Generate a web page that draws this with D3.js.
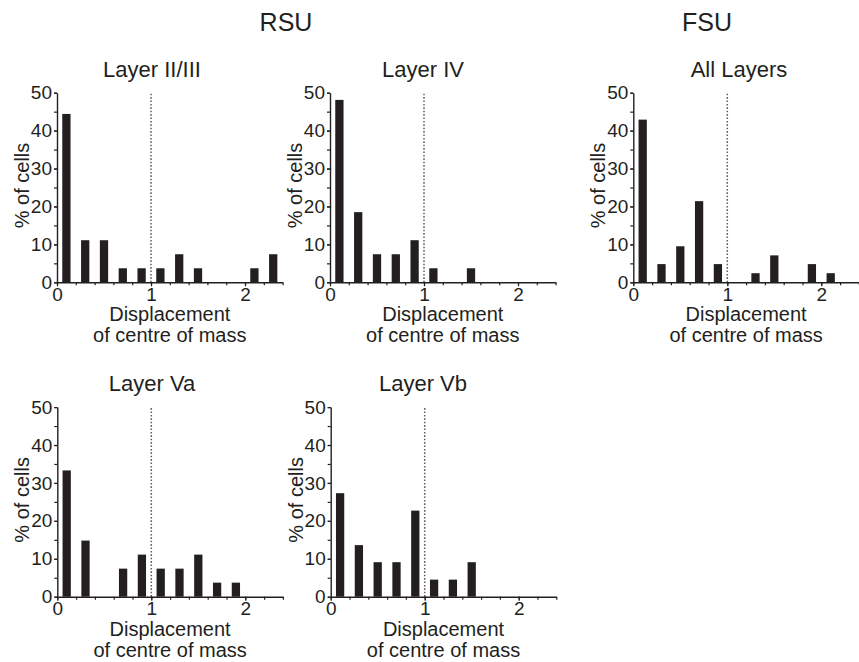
<!DOCTYPE html>
<html>
<head>
<meta charset="utf-8">
<script src="https://cdn.jsdelivr.net/npm/d3@7"></script>
<style>
  html, body { margin: 0; padding: 0; background: #fff; }
  svg { display: block; font-family: "Liberation Sans", Arial, Helvetica, sans-serif; }
</style>
</head>
<body>
<svg id="chart" width="859" height="662"></svg>
<script>
// ---- data ----
const binCentres = [0.1, 0.3, 0.5, 0.7, 0.9, 1.1, 1.3, 1.5, 1.7, 1.9, 2.1, 2.3];
const rsuLayerII_III = [44.4, 11.1, 11.1, 3.7, 3.7, 3.7, 7.4, 3.7, 0, 0, 3.7, 7.4];
const rsuLayerIV     = [48.1, 18.5, 7.4, 7.4, 11.1, 3.7, 0, 3.7, 0, 0, 0, 0];
const fsuAllLayers   = [42.9, 4.8, 9.5, 21.4, 4.8, 0, 2.4, 7.1, 0, 4.8, 2.4, 0];
const rsuLayerVa     = [33.3, 14.8, 0, 7.4, 11.1, 7.4, 7.4, 11.1, 3.7, 3.7, 0, 0];
const rsuLayerVb     = [27.3, 13.6, 9.1, 9.1, 22.7, 4.5, 4.5, 9.1, 0, 0, 0, 0];
const panelTitles = ["Layer II/III", "Layer IV", "All Layers", "Layer Va", "Layer Vb"];
const groupTitles = ["RSU", "FSU"];
const xTickLabels = [0, 1, 2];
const yTickLabels = [0, 10, 20, 30, 40, 50];
const xMinorStep = 0.2;
const yMinorStep = 5;
const xDomain = [0, 2.4];
const yDomain = [0, 50];
const referenceLine = 1;
const xLabelLines = ["Displacement", "of centre of mass"];
const yLabel = "% of cells";

// ---- layout ----
const ink = "#231f20";
const font = "'Liberation Sans', Arial, Helvetica, sans-serif";
const plotW = 225.6, plotH = 189.6;
const panels = [
  { values: rsuLayerII_III, title: panelTitles[0], x0: 57,    y0: 282.3, titleX: 152 },
  { values: rsuLayerIV,     title: panelTitles[1], x0: 330,   y0: 282.3, titleX: 423 },
  { values: fsuAllLayers,   title: panelTitles[2], x0: 633.3, y0: 282.3, titleX: 739 },
  { values: rsuLayerVa,     title: panelTitles[3], x0: 57.3,  y0: 596.7, titleX: 152 },
  { values: rsuLayerVb,     title: panelTitles[4], x0: 330.7, y0: 596.7, titleX: 423 }
];
const groupPos = [{ x: 286, y: 31 }, { x: 707, y: 31 }];

const svg = d3.select("#chart");

groupTitles.forEach((t, i) => {
  svg.append("text")
    .attr("x", groupPos[i].x).attr("y", groupPos[i].y)
    .attr("text-anchor", "middle")
    .attr("font-family", font)
    .attr("font-size", 25).attr("fill", ink)
    .text(t);
});

const barW = 0.088;

panels.forEach(p => {
  const x = d3.scaleLinear().domain(xDomain).range([0, plotW]);
  const y = d3.scaleLinear().domain(yDomain).range([0, -plotH]);
  const g = svg.append("g").attr("transform", `translate(${p.x0},${p.y0})`)
    .attr("font-family", font);

  // title
  g.append("text")
    .attr("x", p.titleX - p.x0).attr("y", -plotH - 16)
    .attr("text-anchor", "middle")
    .attr("font-size", 22).attr("fill", ink)
    .text(p.title);

  // bars
  g.selectAll("rect.bar")
    .data(binCentres.map((c, i) => ({ c, v: p.values[i] })).filter(d => d.v > 0))
    .join("rect")
    .attr("class", "bar")
    .attr("x", d => x(d.c - barW / 2))
    .attr("width", d => x(d.c + barW / 2) - x(d.c - barW / 2))
    .attr("y", d => y(d.v))
    .attr("height", d => y(0) - y(d.v))
    .attr("fill", ink);

  // reference dotted line
  g.append("line")
    .attr("x1", x(referenceLine)).attr("x2", x(referenceLine))
    .attr("y1", y(0)).attr("y2", y(yDomain[1]))
    .attr("stroke", "#5e5e5e").attr("stroke-width", 1.5)
    .attr("stroke-dasharray", "1.6,1.8");

  // x axis minor ticks
  const xMinor = d3.range(xDomain[0], xDomain[1] + 1e-9, xMinorStep);
  const gxm = g.append("g").call(d3.axisBottom(x).tickValues(xMinor).tickSize(3).tickFormat(""));
  gxm.select(".domain").remove();
  gxm.selectAll("line").attr("stroke", ink).attr("stroke-width", 1.2);

  // x axis labelled
  const xAxis = d3.axisBottom(x).tickValues(xTickLabels).tickSize(4).tickSizeOuter(0).tickPadding(1).tickFormat(d3.format("d"));
  const gx = g.append("g").call(xAxis).attr("font-family", font).attr("font-size", 19);
  gx.select(".domain").attr("stroke", ink).attr("stroke-width", 1.4);
  gx.selectAll("line").attr("stroke", ink).attr("stroke-width", 1.2);
  gx.selectAll("text").attr("fill", ink);

  // y axis minor ticks
  const yMinor = d3.range(yDomain[0], yDomain[1] + 1e-9, yMinorStep);
  const gym = g.append("g").call(d3.axisLeft(y).tickValues(yMinor).tickSize(3).tickFormat(""));
  gym.select(".domain").remove();
  gym.selectAll("line").attr("stroke", ink).attr("stroke-width", 1.2);

  // y axis labelled
  const yAxis = d3.axisLeft(y).tickValues(yTickLabels).tickSize(3).tickSizeOuter(0).tickPadding(2).tickFormat(d3.format("d"));
  const gy = g.append("g").call(yAxis).attr("font-family", font).attr("font-size", 19);
  gy.select(".domain").attr("stroke", ink).attr("stroke-width", 1.4);
  gy.selectAll("line").attr("stroke", ink).attr("stroke-width", 1.2);
  gy.selectAll("text").attr("fill", ink);

  // y label
  g.append("text")
    .attr("transform", `translate(-28,${-plotH / 2 - 2}) rotate(-90)`)
    .attr("text-anchor", "middle")
    .attr("font-size", 20).attr("fill", ink)
    .text(yLabel);

  // x label
  xLabelLines.forEach((line, i) => {
    g.append("text")
      .attr("x", plotW / 2).attr("y", 39 + i * 21)
      .attr("text-anchor", "middle")
      .attr("font-size", 20).attr("fill", ink)
      .text(line);
  });
});
</script>
</body>
</html>
